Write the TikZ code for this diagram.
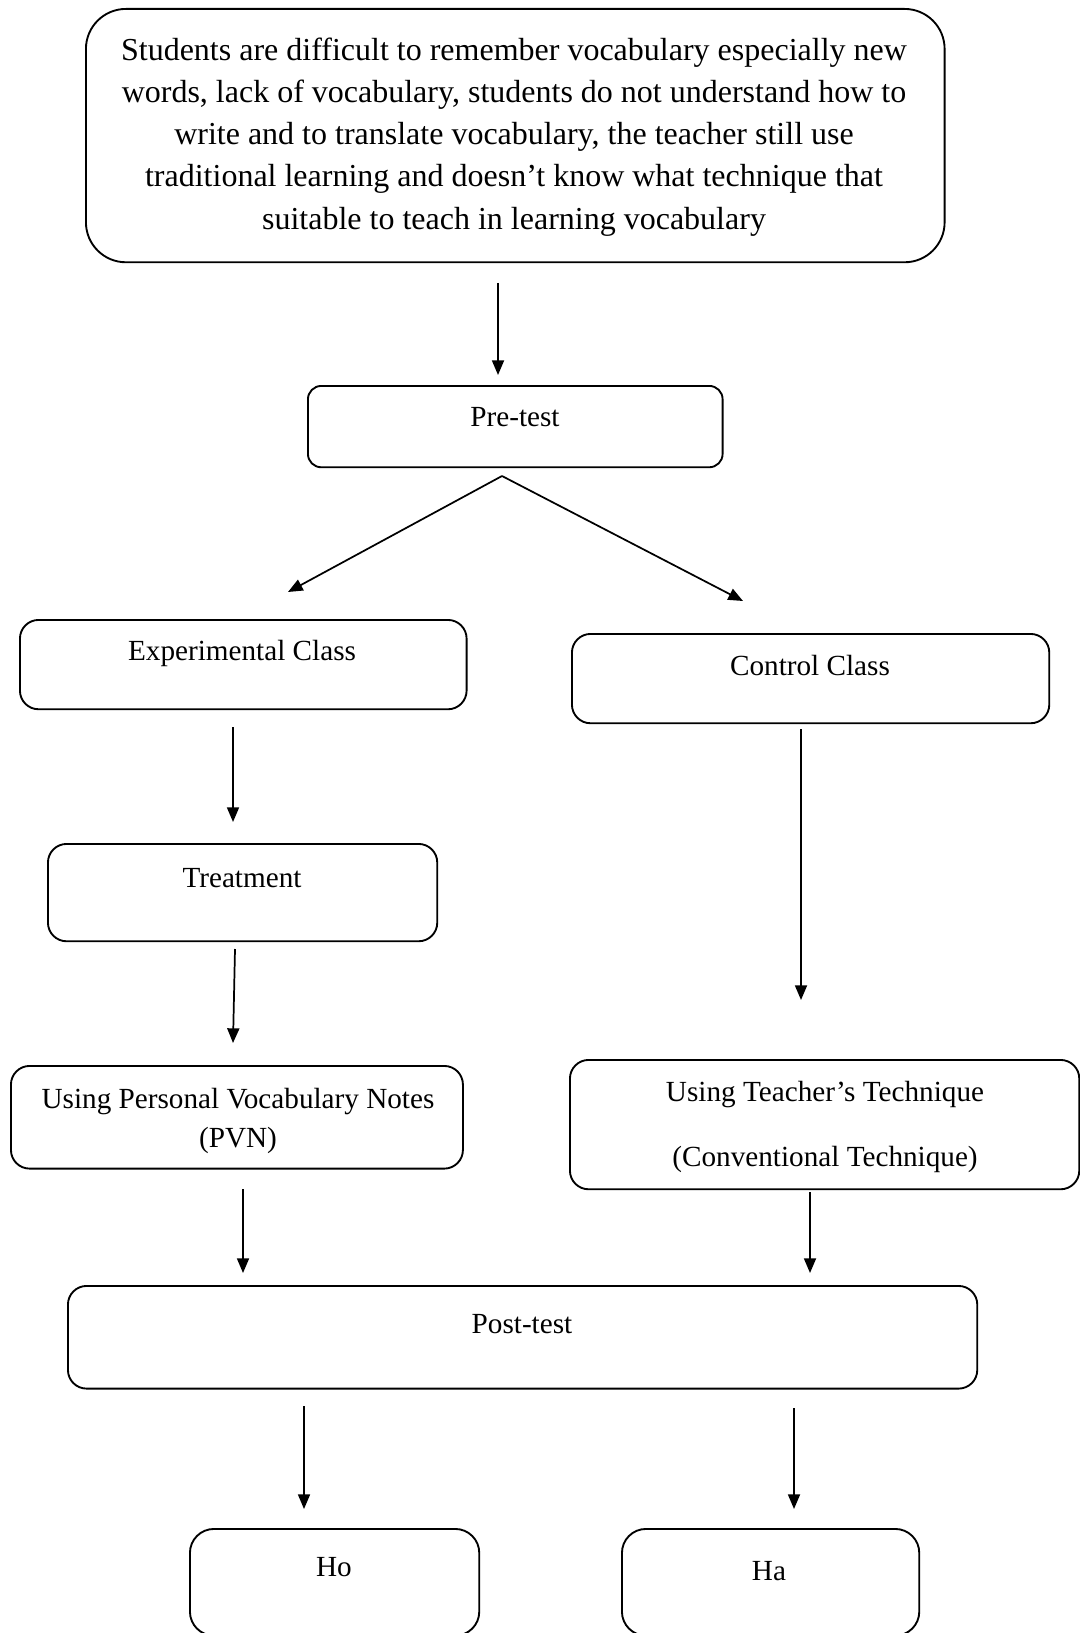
\documentclass[tikz,border=0pt]{standalone}
\usepackage{fontspec}
\setmainfont{Liberation Serif}
\usetikzlibrary{arrows.meta}
\begin{document}
\begin{tikzpicture}[x=0.75pt,y=-0.75pt,
  box/.style={draw,line width=1.4pt,rounded corners=14pt,anchor=north west,inner sep=0pt},
  lbl/.style={inner sep=0pt,font=\fontsize{21.9}{29}\selectfont,align=center},
  arr/.style={line width=1.3pt,-{Triangle[length=11pt,width=9pt]}}]
\useasboundingbox (0,0) rectangle (1080,1633);
% boxes
\node[box,rounded corners=30pt,minimum width=644pt,minimum height=190pt] (top) at (85,8) {};
\node[box,rounded corners=10pt,minimum width=311pt,minimum height=61pt] (pre) at (307,385) {};
\node[box,minimum width=335pt,minimum height=67pt] (exp) at (19,619) {};
\node[box,minimum width=358pt,minimum height=67pt] (ctl) at (571,633) {};
\node[box,minimum width=292pt,minimum height=73pt] (tre) at (47,843) {};
\node[box,minimum width=339pt,minimum height=77pt] (pvn) at (10,1065) {};
\node[box,minimum width=382pt,minimum height=97pt] (tch) at (569,1059) {};
\node[box,minimum width=682pt,minimum height=77pt] (post) at (67,1285) {};
\node[box,rounded corners=18pt,minimum width=217pt,minimum height=80pt] (ho) at (189,1528) {};
\node[box,rounded corners=18pt,minimum width=223pt,minimum height=80pt] (ha) at (621,1528) {};
% texts
\node[lbl,font=\fontsize{24}{31.6}\selectfont] (ttop) at (514,137) {Students are difficult to remember vocabulary especially new\\words, lack of vocabulary, students do not understand how to\\write and to translate vocabulary, the teacher still use\\traditional learning and doesn’t know what technique that\\suitable to teach in learning vocabulary};
\node[lbl] (tpre) at (515,417) {Pre-test};
\node[lbl] (texp) at (242,653) {Experimental Class};
\node[lbl] (tctl) at (810,666) {Control Class};
\node[lbl] (ttre) at (242,878) {Treatment};
\node[lbl] (tpvn) at (238,1121) {Using Personal Vocabulary Notes\\(PVN)};
\node[lbl] (ttch1) at (825,1095) {Using Teacher’s Technique};
\node[lbl] (ttch2) at (825,1159) {(Conventional Technique)};
\node[lbl] (tpost) at (522,1324) {Post-test};
\node[lbl] (tho) at (334,1567) {Ho};
\node[lbl] (tha) at (769,1571) {Ha};
% connector coordinates
\coordinate (a1) at (498,283); \coordinate (b1) at (498,375);
\coordinate (s) at (502,476);
\coordinate (b2) at (288,592); \coordinate (b3) at (743,601);
\coordinate (a4) at (233,727); \coordinate (b4) at (233,822);
\coordinate (a5) at (235,949); \coordinate (b5) at (233,1043);
\coordinate (a6) at (801,729); \coordinate (b6) at (801,1000);
\coordinate (a7) at (243,1189); \coordinate (b7) at (243,1273);
\coordinate (a8) at (810,1192); \coordinate (b8) at (810,1273);
\coordinate (a9) at (304,1406); \coordinate (b9) at (304,1509);
\coordinate (a10) at (794,1408); \coordinate (b10) at (794,1509);
\draw[arr] (a1) -- (b1);
\draw[arr] (s) -- (b2);
\draw[arr] (s) -- (b3);
\draw[arr] (a4) -- (b4);
\draw[arr] (a5) -- (b5);
\draw[arr] (a6) -- (b6);
\draw[arr] (a7) -- (b7);
\draw[arr] (a8) -- (b8);
\draw[arr] (a9) -- (b9);
\draw[arr] (a10) -- (b10);
\end{tikzpicture}
\end{document}
